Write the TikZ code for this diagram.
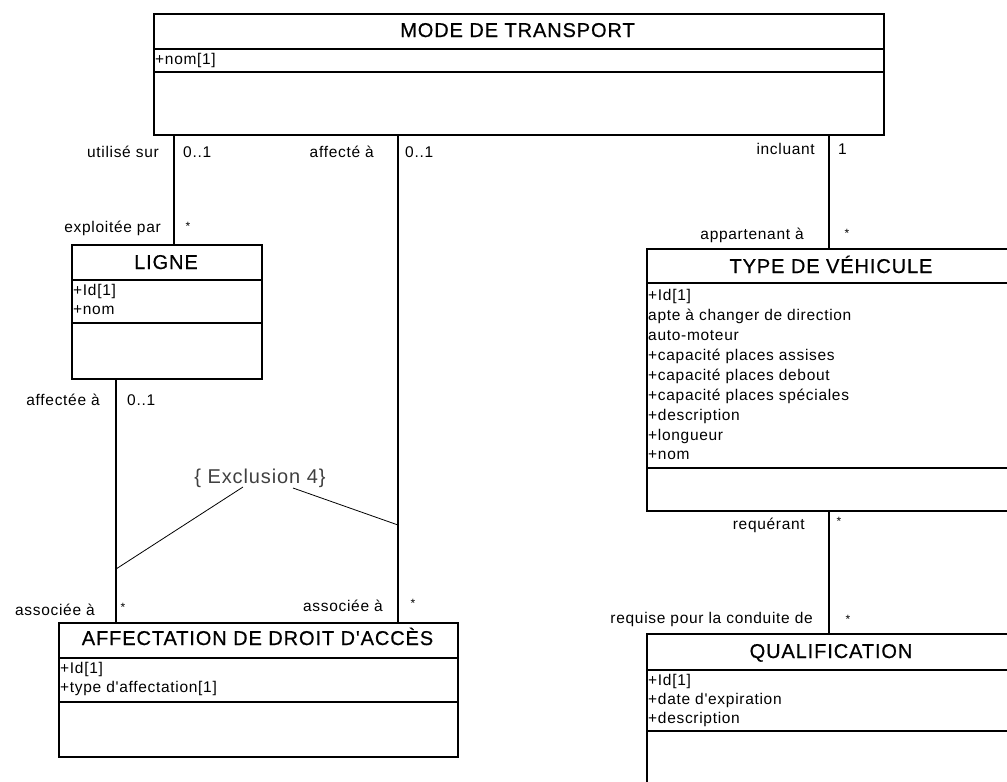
\documentclass[tikz,border=0pt]{standalone}
\usepackage{fontspec}
\setmainfont{Liberation Sans}
\newfontfamily\umlfont[LetterSpace=4.5]{Liberation Sans}
\newfontfamily\umltitlefont[LetterSpace=4.5,FakeBold=0.6]{Liberation Sans}
\begin{document}
\begin{tikzpicture}[x=1pt,y=-1pt,
  box/.style={draw, line width=1.5pt, anchor=north west, inner sep=0pt},
  sep/.style={line width=1.4pt},
  assoc/.style={line width=1.3pt},
  constraint/.style={line width=0.8pt},
  title/.style={anchor=base, inner sep=0pt, font=\umltitlefont\fontsize{20}{24}\selectfont},
  attr/.style={anchor=base west, inner sep=0pt, font=\umlfont\fontsize{15.5}{19}\selectfont},
  rolel/.style={anchor=base east, inner sep=0pt, font=\umlfont\fontsize{15.5}{19}\selectfont},
  roler/.style={anchor=base west, inner sep=0pt, font=\umlfont\fontsize{15.5}{19}\selectfont},
  star/.style={anchor=base, inner sep=0pt, font=\fontsize{12}{14}\selectfont}
]
\useasboundingbox (0,0) rectangle (1007,782);
\clip (0,0) rectangle (1007,782);

% ---------- MODE DE TRANSPORT ----------
\node[box, minimum width=730pt, minimum height=121pt] (mode) at (153,13) {};
\node[title] (mode-t) at (517.5,37) {MODE DE TRANSPORT};
\draw[sep] (mode.west |- 0,49) -- (mode.east |- 0,49);
\node[attr] (mode-a1) at (155,64) {+nom[1]};
\draw[sep] (mode.west |- 0,72) -- (mode.east |- 0,72);

% ---------- LIGNE ----------
\node[box, minimum width=190pt, minimum height=134pt] (ligne) at (71,244) {};
\node[title] (ligne-t) at (166,269) {LIGNE};
\draw[sep] (ligne.west |- 0,280) -- (ligne.east |- 0,280);
\node[attr] (ligne-a1) at (73,295) {+Id[1]};
\node[attr] (ligne-a2) at (73,314) {+nom};
\draw[sep] (ligne.west |- 0,323) -- (ligne.east |- 0,323);

% ---------- TYPE DE VEHICULE ----------
\node[box, minimum width=370pt, minimum height=262pt] (type) at (646,248) {};
\node[title] (type-t) at (831,273) {TYPE DE VÉHICULE};
\draw[sep] (type.west |- 0,283) -- (type.east |- 0,283);
\node[attr] (type-a1) at (648,300) {+Id[1]};
\node[attr] (type-a2) at (648,320) {apte à changer de direction};
\node[attr] (type-a3) at (648,340) {auto-moteur};
\node[attr] (type-a4) at (648,360) {+capacité places assises};
\node[attr] (type-a5) at (648,380) {+capacité places debout};
\node[attr] (type-a6) at (648,400) {+capacité places spéciales};
\node[attr] (type-a7) at (648,420) {+description};
\node[attr] (type-a8) at (648,440) {+longueur};
\node[attr] (type-a9) at (648,459) {+nom};
\draw[sep] (type.west |- 0,468) -- (type.east |- 0,468);

% ---------- QUALIFICATION ----------
\node[box, minimum width=370pt, minimum height=170pt] (qual) at (646,633) {};
\node[title] (qual-t) at (831,658) {QUALIFICATION};
\draw[sep] (qual.west |- 0,670) -- (qual.east |- 0,670);
\node[attr] (qual-a1) at (648,685) {+Id[1]};
\node[attr] (qual-a2) at (648,704) {+date d'expiration};
\node[attr] (qual-a3) at (648,723) {+description};
\draw[sep] (qual.west |- 0,731) -- (qual.east |- 0,731);

% ---------- AFFECTATION DE DROIT D'ACCES ----------
\node[box, minimum width=399pt, minimum height=134pt] (aff) at (58,622) {};
\node[title] (aff-t) at (257.5,645) {AFFECTATION DE DROIT D'ACCÈS};
\draw[sep] (aff.west |- 0,658) -- (aff.east |- 0,658);
\node[attr] (aff-a1) at (60,673) {+Id[1]};
\node[attr] (aff-a2) at (60,692) {+type d'affectation[1]};
\draw[sep] (aff.west |- 0,702) -- (aff.east |- 0,702);

% ---------- associations ----------
\coordinate (x1) at (174,0);
\coordinate (x2) at (398,0);
\coordinate (x3) at (829,0);
\coordinate (x4) at (116,0);

% mode -- ligne
\draw[assoc] (x1 |- mode.south) -- (x1 |- ligne.north);
\node[rolel] (r1a) at (159,157) {utilisé sur};
\node[roler] (m1a) at (183,157) {0..1};
\node[rolel] (r1b) at (161,232) {exploitée par};
\node[star] (m1b) at (188,230) {*};

% mode -- affectation
\draw[assoc] (x2 |- mode.south) -- (x2 |- aff.north);
\node[rolel] (r2a) at (374,157) {affecté à};
\node[roler] (m2a) at (405,157) {0..1};
\node[rolel] (r2b) at (383,611) {associée à};
\node[star] (m2b) at (413,607) {*};

% mode -- type
\draw[assoc] (x3 |- mode.south) -- (x3 |- type.north);
\node[rolel] (r3a) at (815,154) {incluant};
\node[roler] (m3a) at (838,154) {1};
\node[rolel] (r3b) at (804,239) {appartenant à};
\node[star] (m3b) at (847,237) {*};

% ligne -- affectation
\draw[assoc] (x4 |- ligne.south) -- (x4 |- aff.north);
\node[rolel] (r4a) at (100,405) {affectée à};
\node[roler] (m4a) at (127,405) {0..1};
\node[rolel] (r4b) at (95,615) {associée à};
\node[star] (m4b) at (123,611) {*};

% type -- qualification
\draw[assoc] (x3 |- type.south) -- (x3 |- qual.north);
\node[rolel] (r5a) at (805,529) {requérant};
\node[star] (m5a) at (839,525) {*};
\node[rolel] (r5b) at (813,623) {requise pour la conduite de};
\node[star] (m5b) at (848,623) {*};

% ---------- exclusion constraint ----------
\node[anchor=base, inner sep=0pt, text=black!75,
      font=\umlfont\fontsize{20}{24}\selectfont] (excl) at (260,483) {\{ Exclusion 4\}};
\coordinate (exl) at (243,487);
\coordinate (exr) at (293,488);
\draw[constraint] (exl) -- (x4 |- 0,569);
\draw[constraint] (exr) -- (x2 |- 0,525);
\end{tikzpicture}
\end{document}
